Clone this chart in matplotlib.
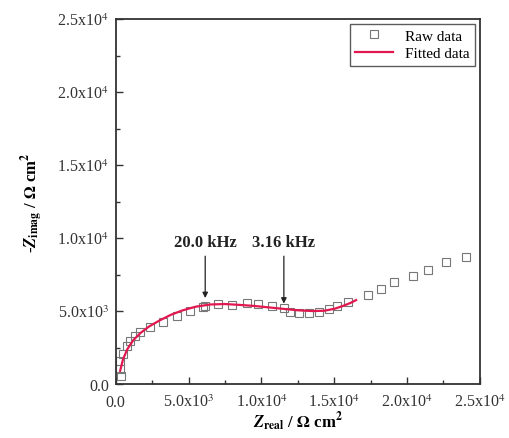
import numpy as np
import matplotlib.pyplot as plt
from matplotlib.ticker import MultipleLocator, FixedLocator

plt.rcParams['font.family'] = ['Liberation Serif', 'DejaVu Serif']
plt.rcParams['mathtext.fontset'] = 'stix'

# Raw impedance data (Z_real, -Z_imag) in ohm cm^2
raw_x = [390, 280, 280, 500, 740, 970, 1310, 1650, 2350, 3260, 4190, 5100,
         6020, 6140, 7050, 7980, 9010, 9790, 10740, 11540, 11930, 12550,
         13240, 13930, 14620, 15220, 15910, 17290, 18210, 19100, 20410,
         21450, 22690, 24070]
raw_y = [570, 1030, 1600, 2050, 2580, 2970, 3310, 3560, 3880, 4230, 4680,
         5020, 5250, 5360, 5480, 5410, 5550, 5480, 5360, 5190, 4930, 4860,
         4860, 4930, 5140, 5340, 5600, 6100, 6510, 6990, 7400, 7810, 8360,
         8700]

# Fitted curve
fit_x = [300, 500, 800, 1200, 1700, 2300, 3000, 3800, 4600, 5500, 6500,
         7500, 8500, 9500, 10500, 11500, 12500, 13500, 14300, 15000, 15600,
         16100, 16500]
fit_y = [900, 1700, 2400, 3000, 3500, 3950, 4350, 4750, 5050, 5300, 5450,
         5480, 5420, 5350, 5250, 5150, 5050, 5000, 5020, 5150, 5350, 5550,
         5750]

tick_vals = [0, 5000, 10000, 15000, 20000, 25000]
tick_labels = ['0.0', r'5.0x10$^{3}$', r'1.0x10$^{4}$', r'1.5x10$^{4}$',
               r'2.0x10$^{4}$', r'2.5x10$^{4}$']

# Frequency markers: label, arrow x, arrow head y
freq_labels = ['20.0 kHz', '3.16 kHz']
freq_x = [6140, 11540]
freq_y = [5700, 5320]

fig = plt.figure(figsize=(5.10, 4.39), dpi=100)
ax = fig.add_axes([0.227, 0.123, 0.714, 0.831])

ax.plot(raw_x, raw_y, 's', mfc='none', mec='#777777', ms=5.6, mew=0.8,
        label='Raw data', zorder=2)
ax.plot(fit_x, fit_y, '-', color='#e3174f', lw=1.6, label='Fitted data',
        zorder=3)

for lab, fx, fy in zip(freq_labels, freq_x, freq_y):
    ax.annotate('', xy=(fx, fy), xytext=(fx, 8950),
                arrowprops=dict(arrowstyle='-|>', color='#222222', lw=0.9,
                                mutation_scale=8))
    ax.text(fx, 9150, lab, ha='center', va='bottom', fontsize=12,
            fontweight='bold', color='#222222')

ax.set_xlim(0, 25000)
ax.set_ylim(0, 25000)
ax.xaxis.set_major_locator(FixedLocator(tick_vals))
ax.yaxis.set_major_locator(FixedLocator(tick_vals))
ax.set_xticklabels(tick_labels)
ax.set_yticklabels(tick_labels)
ax.xaxis.set_minor_locator(MultipleLocator(2500))
ax.yaxis.set_minor_locator(MultipleLocator(2500))
ax.tick_params(which='both', direction='in', top=False, right=False,
               labelsize=11.5, colors='#333333')
ax.tick_params(axis='x', pad=7)
ax.tick_params(axis='y', pad=5)
ax.tick_params(which='major', length=5, width=1)
ax.tick_params(which='minor', length=3, width=1)
for s in ax.spines.values():
    s.set_linewidth(1.3)
    s.set_color('#333333')

ax.set_xlabel(r'$\mathbfit{Z}_{\mathbf{real}}$ / $\mathbf{\Omega}$ cm$^{\mathbf{2}}$',
              fontsize=12, fontweight='bold', labelpad=0)
ax.set_ylabel(r'-$\mathbfit{Z}_{\mathbf{imag}}$ / $\mathbf{\Omega}$ cm$^{\mathbf{2}}$',
              fontsize=12, fontweight='bold', labelpad=8)

leg = ax.legend(loc='upper right', fontsize=11, frameon=True, fancybox=False,
                edgecolor='#333333', handlelength=2.5, borderpad=0.35,
                labelspacing=0.25, borderaxespad=0.3)
leg.get_frame().set_linewidth(1.0)

fig.savefig('out.png', dpi=100)
